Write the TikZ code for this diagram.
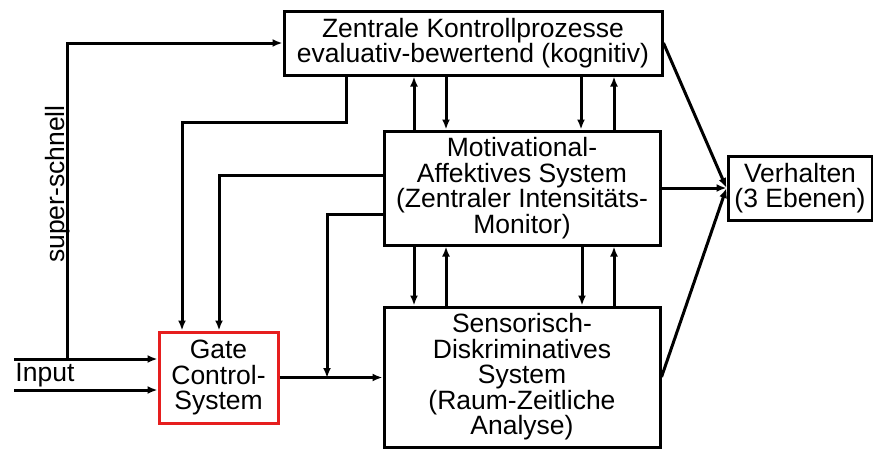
\documentclass[tikz,border=0pt]{standalone}
\usepackage{fontspec}
\setmainfont{Liberation Sans}
\usepackage{tikz}
\usetikzlibrary{arrows.meta,positioning,calc}
\definecolor{GateRed}{RGB}{230,30,30}

\begin{document}
\begin{tikzpicture}[x=1pt,y=-1pt,line width=3pt,
  txt/.style={inner sep=0pt,font=\fontsize{26.5}{25.5}\selectfont},
  box/.style={txt,draw,align=center},
  arr/.style={-{Latex[length=10pt,width=8pt]}}]
  \useasboundingbox (0,0) rectangle (873,448);
  % Kaesten
  \node[box,minimum width=378pt,minimum height=64pt] (kontroll) at (473,43) {Zentrale Kontrollprozesse\\evaluativ-bewertend (kognitiv)};
  \node[box,minimum width=276pt,minimum height=114pt] (motiv) at (522,188) {Motivational-\\Affektives System\\(Zentraler Intensitäts-\\Monitor)};
  \node[box,minimum width=276pt,minimum height=140pt] (sensor) at (522,377) {Sensorisch-\\Diskriminatives\\System\\(Raum-Zeitliche\\Analyse)};
  \node[box,minimum width=144pt,minimum height=64pt] (verhalten) at (800,188) {Verhalten\\(3 Ebenen)};
  \node[box,draw=GateRed,minimum width=119pt,minimum height=91pt] (gate) at (218.5,377.5) {Gate\\Control-\\System};
  % Eingang
  \coordinate (in1) at (14,359);
  \coordinate (in2) at (14,390);
  \coordinate (split) at (67,359);
  \coordinate (merge) at (327,378);
  \node[txt,anchor=base west] (input) at (14,381) {Input};
  \draw[arr] (in1) -- (gate.west |- in1);
  \draw[arr] (in2) -- (gate.west |- in2);
  \draw[arr] (split) |- (kontroll.west);
  \node[txt,rotate=90,anchor=base] (schnell) at (64,184) {super-schnell};
  % Rueckkopplung zum Gate
  \draw[arr] (kontroll.south -| 346,0) -- (346,122) -| (gate.north -| 182,0);
  \draw[arr] (motiv.west |- 0,175) -| (gate.north -| 219,0);
  \draw[arr] (motiv.west |- 0,214) -| (merge);
  \draw[arr] (gate.east) -- (sensor.west |- gate.east);
  % zwischen den Ebenen
  \foreach \x in {446,581}
    \draw[arr] (kontroll.south -| \x,0) -- (motiv.north -| \x,0);
  \foreach \x in {414,614}
    \draw[arr] (motiv.north -| \x,0) -- (kontroll.south -| \x,0);
  \foreach \x in {414,582}
    \draw[arr] (motiv.south -| \x,0) -- (sensor.north -| \x,0);
  \foreach \x in {446,614}
    \draw[arr] (sensor.north -| \x,0) -- (motiv.south -| \x,0);
  % Verhalten
  \foreach \n in {kontroll,motiv,sensor}
    \draw[arr] (\n.east) -- (verhalten.west);
\end{tikzpicture}
\end{document}
